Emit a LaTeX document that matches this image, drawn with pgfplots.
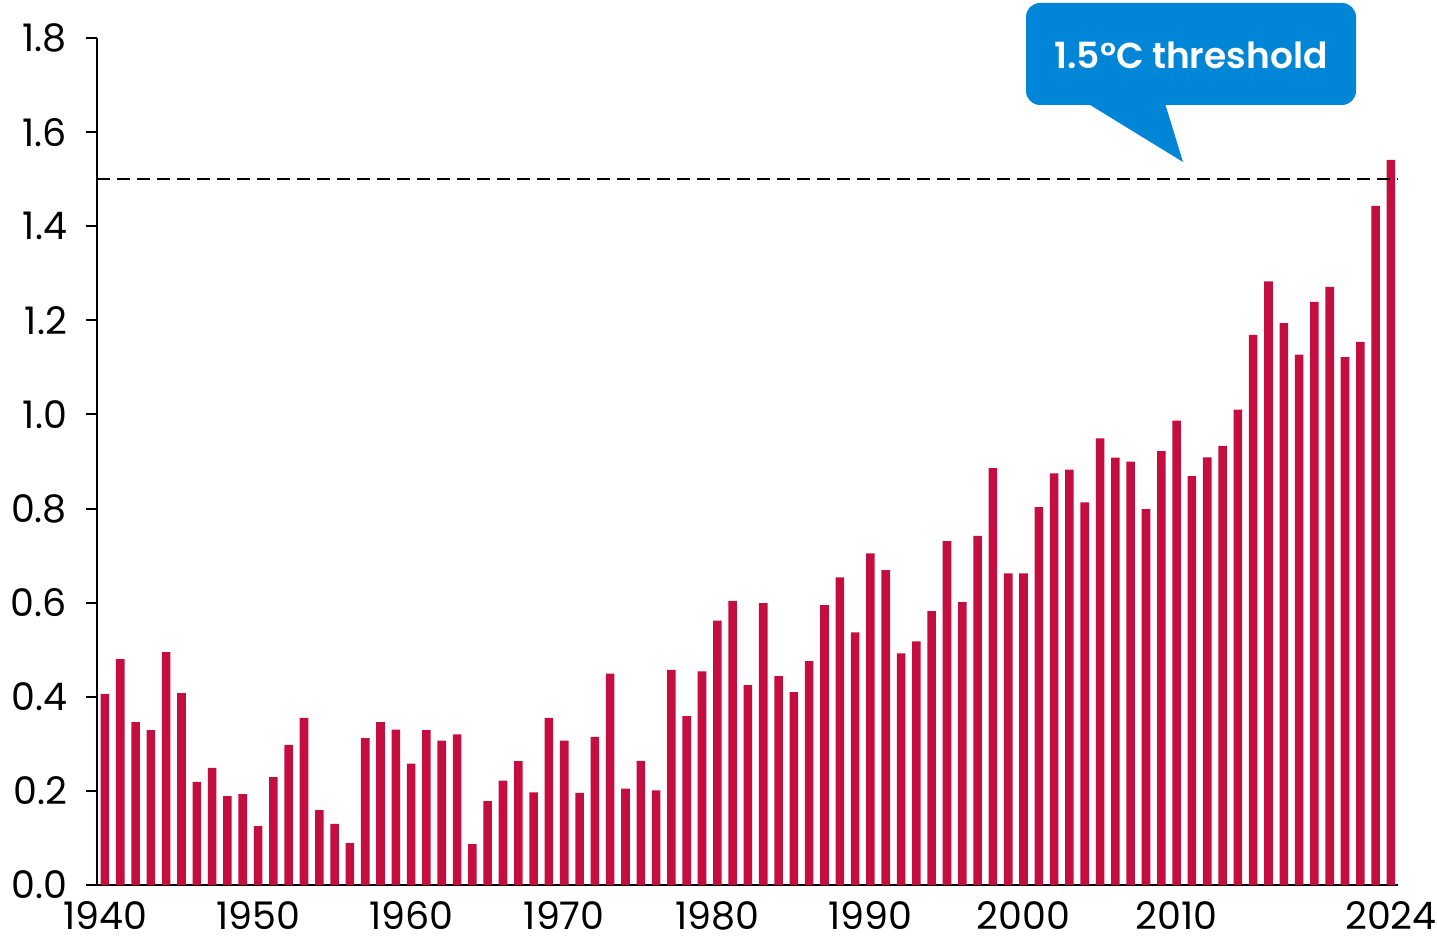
\documentclass[border=0pt]{standalone}
\usepackage{fontspec}
\setmainfont{Poppins}
\newfontfamily\callfont{Poppins SemiBold}
\usepackage{pgfplots}
\pgfplotsset{compat=1.18}
\definecolor{barred}{RGB}{196,14,64}
\definecolor{callblue}{RGB}{0,133,215}
\pgfplotstableread{
year val
1940 0.406
1941 0.480
1942 0.346
1943 0.329
1944 0.495
1945 0.408
1946 0.219
1947 0.249
1948 0.189
1949 0.193
1950 0.125
1951 0.229
1952 0.298
1953 0.355
1954 0.159
1955 0.130
1956 0.089
1957 0.312
1958 0.346
1959 0.330
1960 0.258
1961 0.329
1962 0.307
1963 0.320
1964 0.087
1965 0.178
1966 0.222
1967 0.263
1968 0.197
1969 0.355
1970 0.307
1971 0.196
1972 0.315
1973 0.449
1974 0.205
1975 0.264
1976 0.201
1977 0.457
1978 0.359
1979 0.454
1980 0.562
1981 0.604
1982 0.425
1983 0.599
1984 0.444
1985 0.410
1986 0.476
1987 0.595
1988 0.654
1989 0.537
1990 0.705
1991 0.669
1992 0.492
1993 0.518
1994 0.582
1995 0.731
1996 0.601
1997 0.742
1998 0.886
1999 0.662
2000 0.662
2001 0.803
2002 0.875
2003 0.883
2004 0.813
2005 0.949
2006 0.908
2007 0.900
2008 0.799
2009 0.922
2010 0.987
2011 0.869
2012 0.909
2013 0.933
2014 1.010
2015 1.169
2016 1.283
2017 1.194
2018 1.127
2019 1.239
2020 1.271
2021 1.122
2022 1.154
2023 1.443
2024 1.541
}\datatable
\begin{document}
\begin{tikzpicture}
\begin{axis}[
  at={(48.5pt,-442.5pt)}, anchor=south west,
  scale only axis, width=650.5pt, height=423.5pt,
  xmin=1939.48, xmax=2024.46, ymin=0, ymax=1.8,
  axis lines*=left,
  axis line style={line width=1pt, black},
  ytick={0,0.2,0.4,0.6,0.8,1.0,1.2,1.4,1.6,1.8},
  yticklabel style={xshift=-6pt, /pgf/number format/fixed, /pgf/number format/fixed zerofill, /pgf/number format/precision=1},
  xtick={1940,1950,1960,1970,1980,1990,2000,2010,2024},
  xticklabels={1940,1950,1960,1970,1980,1990,2000,2010,2024},
  xticklabel style={inner sep=0pt, anchor=north, yshift=-2.5pt},
  tick align=outside,
  major tick length=5.5pt,
  tick style={line width=1pt, black},
  xtick style={draw=none},
  ticklabel style={font=\fontsize{19}{22}\selectfont},
  /pgf/number format/assume math mode=true,
  ybar, bar width=0.56,
  clip=false,
]
\addplot[fill=barred, draw=none] table[x=year, y=val] {\datatable};
\draw[black, line width=1.2pt, dash pattern=on 6.5pt off 3.5pt] (axis cs:1939.48,1.5) -- (axis cs:2024.46,1.5);
\end{axis}
\begin{scope}[x=0.5pt, y=-0.5pt]
\fill[callblue, rounded corners=7pt] (1026,3) rectangle (1356,105);
\fill[callblue] (1082,100) -- (1164,100) -- (1183,162) -- cycle;
\node[text=white, font=\callfont\fontsize{18}{22}\selectfont] at (1191,55) {1.5°C threshold};
\end{scope}
\pgfresetboundingbox
\path[use as bounding box] (0,0) rectangle (718.5pt,-468pt);
\end{tikzpicture}
\end{document}
